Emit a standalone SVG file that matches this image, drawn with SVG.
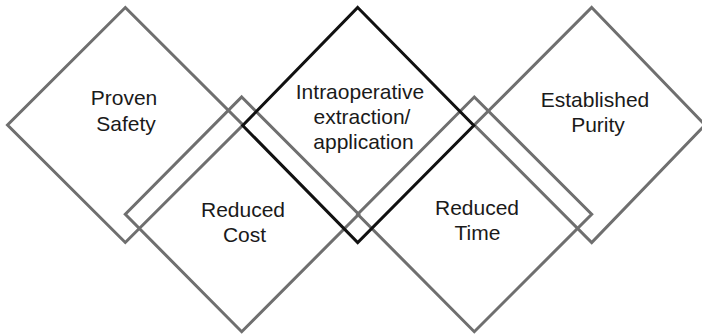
<svg xmlns="http://www.w3.org/2000/svg" width="702" height="335" viewBox="0 0 702 335">
  <style>
    .bg { fill: #ffffff; }
    .dia { fill: none; stroke: #6f6f6f; stroke-width: 3; stroke-linejoin: miter; }
    .dia.key { stroke: #111111; }
    .lbl { font-family: "Liberation Sans", Arial, sans-serif; font-size: 21px; fill: #1a1a1a; text-anchor: middle; }
  </style>
  <rect class="bg" x="0" y="0" width="702" height="335"/>

  <!-- diamond outlines (no connectors between nodes) -->
  <g id="connectors"/>

  <g id="proven-safety">
    <polygon class="dia" points="125.3,7.5 243,125 125.3,242.5 7.5,125"/>
    <text class="lbl"><tspan x="124" y="105">Proven</tspan><tspan x="126" y="130.5">Safety</tspan></text>
  </g>

  <g id="established-purity">
    <polygon class="dia" points="591.7,7.5 705,125 591.7,242.5 474.3,125"/>
    <text class="lbl"><tspan x="595" y="106.5">Established</tspan><tspan x="598" y="131.5">Purity</tspan></text>
  </g>

  <g id="reduced-cost">
    <polygon class="dia" points="241.7,97 358.7,214.3 241.7,331.7 125.3,214.3"/>
    <text class="lbl"><tspan x="243" y="216.5">Reduced</tspan><tspan x="244.5" y="241.7">Cost</tspan></text>
  </g>

  <g id="reduced-time">
    <polygon class="dia" points="474.3,97 591.7,214.3 474.3,331.7 357.7,214.3"/>
    <text class="lbl"><tspan x="477" y="215">Reduced</tspan><tspan x="477.5" y="240">Time</tspan></text>
  </g>

  <g id="intraoperative">
    <polygon class="dia key" points="357.7,7.5 473.8,125.5 357.7,242.5 242.7,125.5"/>
    <text class="lbl"><tspan x="360" y="99">Intraoperative</tspan><tspan x="362" y="124">extraction/</tspan><tspan x="363.5" y="149">application</tspan></text>
  </g>
</svg>
